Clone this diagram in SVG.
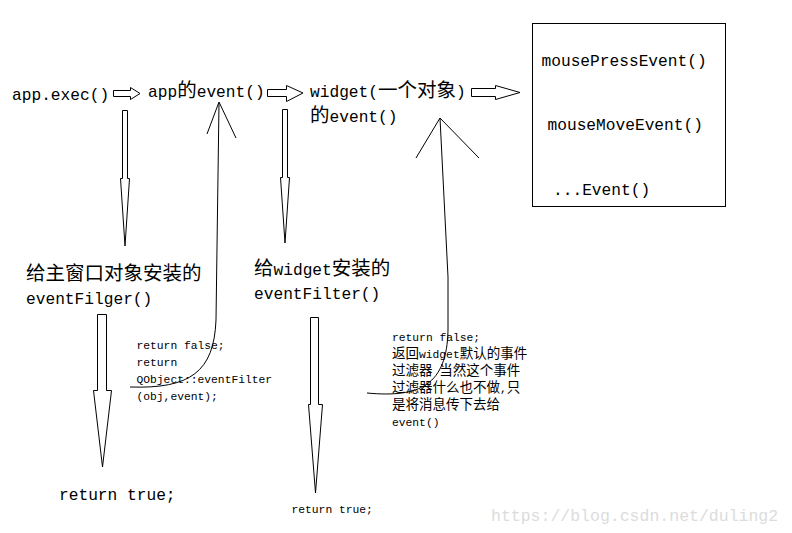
<svg xmlns="http://www.w3.org/2000/svg" width="792" height="533" viewBox="0 0 792 533">
<style>
.m{font-family:"Liberation Mono","Noto Sans CJK SC",monospace;font-size:16.2px;fill:#000}
.mc{font-family:"Noto Sans CJK SC",sans-serif;font-size:19.5px}
.s{font-family:"Liberation Mono","Noto Sans CJK SC",monospace;font-size:11.3px;fill:#000}
.sc{font-family:"Noto Sans CJK SC",sans-serif;font-size:13.5px}
.wm{font-family:"Liberation Mono",monospace;font-size:16.5px;fill:#dcdcdc}
.ar{fill:#fff;stroke:#000;stroke-width:1}
.ln{fill:none;stroke:#000;stroke-width:1}
</style>
<rect width="792" height="533" fill="#fff"/>
<g id="connectors">
  <polygon class="ar" points="113.5,90.5 130.5,90.5 130.5,87.5 140,93.5 130.5,99.5 130.5,96.5 113.5,96.5"/>
  <polygon class="ar" points="267.5,89.5 286.5,89.5 286.5,85.5 303,93 286.5,101.5 286.5,96.5 267.5,96.5"/>
  <polygon class="ar" points="471.5,88.5 495.5,88.5 495.5,85.5 520,92.5 495.5,99.5 495.5,96.5 471.5,96.5"/>
  <polygon class="ar" points="122.5,110.5 127.5,110.5 127.5,178.5 129.5,178.5 125,246 120.5,178.5 122.5,178.5"/>
  <polygon class="ar" points="282.5,109.5 287.5,109.5 287.5,177.5 289.5,177.5 285,243 280.5,177.5 282.5,177.5"/>
  <polygon class="ar" points="97.5,314.5 106.5,314.5 106.5,390.5 111.5,390.5 102.5,467 93.5,390.5 97.5,390.5"/>
  <polygon class="ar" points="310.5,317.5 318.5,317.5 318.5,404.5 322.5,404.5 315.5,493 308.5,404.5 310.5,404.5"/>
  <path class="ln" d="M130,387 C190,389 214,372 216,320 L219,103"/>
  <path class="ln" d="M207,134 L219,102 L236,138"/>
  <path class="ln" d="M367,393 C420,398 447,385 448,330 L448,277 L440,118"/>
  <path class="ln" d="M416,158 L440,118 L479,158"/>
</g>
<g id="n-appexec"><text class="m" x="12" y="100">app.exec()</text></g>
<g id="n-appevent"><text class="m" x="148" y="97">app<tspan class="mc">的</tspan>event()</text></g>
<g id="n-widget">
  <text class="m" x="310" y="97">widget(<tspan class="mc">一个对象</tspan>)</text>
  <text class="m" x="310" y="122"><tspan class="mc">的</tspan>event()</text>
</g>
<g id="n-box">
  <rect x="532.5" y="23.5" width="193" height="183" fill="#fff" stroke="#000" stroke-width="1"/>
  <text class="m" x="541.5" y="66">mousePressEvent()</text>
  <text class="m" x="547.5" y="130">mouseMoveEvent()</text>
  <text class="m" x="553" y="195">...Event()</text>
</g>
<g id="n-mainfilter">
  <text class="m" x="26" y="280"><tspan class="mc">给主窗口对象安装的</tspan></text>
  <text class="m" x="26" y="304">eventFilger()</text>
</g>
<g id="n-widgetfilter">
  <text class="m" x="254" y="275"><tspan class="mc">给</tspan>widget<tspan class="mc">安装的</tspan></text>
  <text class="m" x="254" y="298.5">eventFilter()</text>
</g>
<g id="n-note1">
  <text class="s" x="136.5" y="348.5">return false;</text>
  <text class="s" x="136.5" y="365.5">return</text>
  <text class="s" x="136.5" y="382.5">QObject::eventFilter</text>
  <text class="s" x="136.5" y="399.5">(obj,event);</text>
</g>
<g id="n-note2">
  <text class="s" x="392" y="341">return false;</text>
  <text class="s" x="392" y="358"><tspan class="sc">返回</tspan>widget<tspan class="sc">默认的事件</tspan></text>
  <text class="s" x="392" y="375"><tspan class="sc">过滤器</tspan>  <tspan class="sc">当然这个事件</tspan></text>
  <text class="s" x="392" y="392"><tspan class="sc">过滤器什么也不做</tspan>,<tspan class="sc">只</tspan></text>
  <text class="s" x="392" y="409"><tspan class="sc">是将消息传下去给</tspan></text>
  <text class="s" x="392" y="426">event()</text>
</g>
<g id="n-rettrue1"><text class="m" x="59" y="500">return true;</text></g>
<g id="n-rettrue2"><text class="s" x="291.5" y="513">return true;</text></g>
<text class="wm" x="491" y="521">https://blog.csdn.net/duling2</text>
</svg>
